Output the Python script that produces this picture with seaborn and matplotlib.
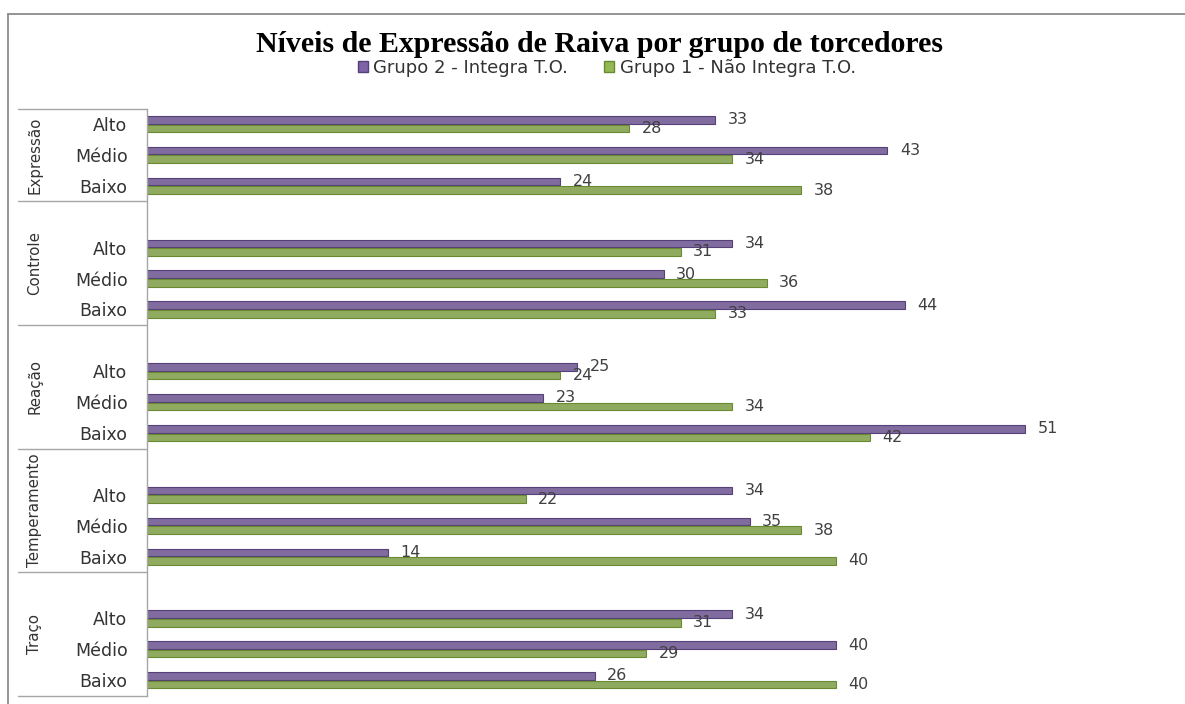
import matplotlib
matplotlib.use("Agg")
import matplotlib.pyplot as plt
import matplotlib.transforms as mtransforms
from matplotlib.lines import Line2D
from matplotlib.patches import Patch
from matplotlib import font_manager
import seaborn as sns
import pandas as pd

# ---------------- data ----------------
groups = ["Expressão", "Controle", "Reação", "Temperamento", "Traço"]
levels = ["Alto", "Médio", "Baixo"]
series_names = ["Grupo 2 - Integra T.O.", "Grupo 1 - Não Integra T.O."]
grupo2 = [33, 43, 24, 34, 30, 44, 25, 23, 51, 34, 35, 14, 34, 40, 26]
grupo1 = [28, 34, 38, 31, 36, 33, 24, 34, 42, 22, 38, 40, 31, 29, 40]
title = "Níveis de Expressão de Raiva por grupo de torcedores"

colors = ["#7E64A6", "#94B853"]
edge_colors = ["#554079", "#6A8A32"]

# ---------------- frame ----------------
sns.set_style("white")
plt.rcParams["font.family"] = ["DejaVu Sans"]

names = {f.name for f in font_manager.fontManager.ttflist}
narrow = "Liberation Sans Narrow" if "Liberation Sans Narrow" in names else None

rows = []
order = []
for gi, g in enumerate(groups):
    if gi > 0:
        order.append(f"__gap{gi}")
    for li, lv in enumerate(levels):
        key = f"{g}|{lv}"
        order.append(key)
        rows.append({"cat": key, "serie": series_names[0], "valor": grupo2[gi * 3 + li]})
        rows.append({"cat": key, "serie": series_names[1], "valor": grupo1[gi * 3 + li]})
df = pd.DataFrame(rows)

W, H = 1185, 704
fig = plt.figure(figsize=(W / 100, H / 100), dpi=100)
ax_left, ax_right, ax_top, ax_bot = 147, 1180, 108.6, 695.7
ax = fig.add_axes([ax_left / W, 1 - ax_bot / H, (ax_right - ax_left) / W, (ax_bot - ax_top) / H])

sns.barplot(data=df, y="cat", x="valor", hue="serie", order=order,
            hue_order=series_names, palette=colors, orient="h",
            width=0.56, gap=0.12, legend=False, ax=ax, errorbar=None)

for cont, ec in zip(ax.containers, edge_colors):
    for p in cont:
        p.set_edgecolor(ec)
        p.set_linewidth(0.8)

ax.set_xlim(0, 60)
ax.set_ylim(len(order) - 0.5, -0.5)
ax.set_xlabel("")
ax.set_ylabel("")
ax.set_xticks([])

# y tick labels
pos = [i for i, c in enumerate(order) if not c.startswith("__")]
labs = [order[i].split("|")[1] for i in pos]
ax.set_yticks(pos)
ax.set_yticklabels(labs)
ax.tick_params(axis="y", length=0, pad=14, labelsize=12.5, labelcolor="#333333")

for s in ["top", "right", "bottom"]:
    ax.spines[s].set_visible(False)
ax.spines["left"].set_color("#a6a6a6")
ax.spines["left"].set_linewidth(1.0)

# value labels
for cont, dy in zip(ax.containers, [1.5, 4.0]):
    texts = ax.bar_label(cont, fmt="%g", padding=9, fontsize=11.5, color="#404040")
    for t in texts:
        t.set_va("center")
        t.set_transform(t.get_transform() + mtransforms.ScaledTranslation(0, -dy / 100, fig.dpi_scale_trans))

# left category box
trans = mtransforms.blended_transform_factory(ax.transAxes, ax.transData)
x0 = (18 - ax_left) / (ax_right - ax_left)
bounds = [-0.5]
centers = []
for gi, g in enumerate(groups):
    start = bounds[-1]
    end = start + (3 if gi == 0 else 4)
    bounds.append(end)
    centers.append((start + end) / 2)
for b in bounds:
    ax.plot([x0, 0], [b, b], transform=trans, color="#a6a6a6", lw=1.0, clip_on=False)

xg = (35 - ax_left) / (ax_right - ax_left)
for g, c in zip(groups, centers):
    if narrow:
        ax.text(xg, c, g, transform=trans, rotation=90, ha="center", va="center",
                fontsize=14, family=[narrow, "DejaVu Sans"], color="#333333")
    else:
        ax.text(xg, c, g, transform=trans, rotation=90, ha="center", va="center",
                fontsize=10.8, color="#333333")

# chart border
fig.add_artist(Line2D([8 / W, 1], [1 - 14 / H] * 2, color="#8c8c8c", lw=1.3, transform=fig.transFigure))
fig.add_artist(Line2D([8 / W] * 2, [0, 1 - 14 / H], color="#8c8c8c", lw=1.3, transform=fig.transFigure))

# title
fig.text(600 / W, 1 - 44 / H, title, ha="center", va="center", fontsize=21.5, fontweight="bold",
         family=["Liberation Serif", "DejaVu Serif"], color="black")

# legend
handles = [Patch(facecolor=c, edgecolor=e, label=n) for c, e, n in zip(colors, edge_colors, series_names)]
fig.legend(handles=handles, loc="center", bbox_to_anchor=(607 / W, 1 - 68 / H), ncol=2,
           frameon=False, fontsize=13, handlelength=0.55, handleheight=0.55,
           handletextpad=0.3, columnspacing=2.0, labelcolor="#333333")

fig.savefig("out.png", dpi=100)
